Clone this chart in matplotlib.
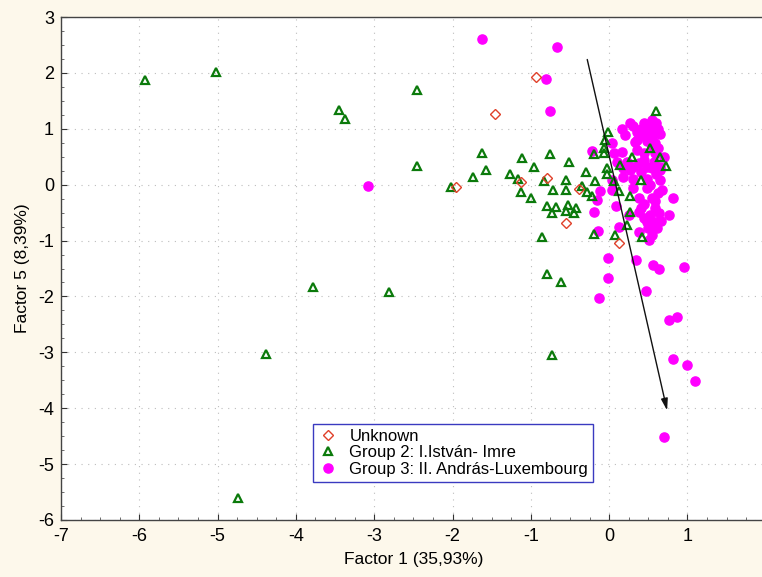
import matplotlib
matplotlib.use("Agg")
import matplotlib.pyplot as plt
from matplotlib.ticker import MultipleLocator
from matplotlib.lines import Line2D

plt.rcParams['font.family'] = ['Liberation Sans', 'DejaVu Sans']
plt.rcParams['axes.unicode_minus'] = False

# Factor scores (Factor 1, Factor 5) per group
unknown_x = [-1.95, -1.12, -0.79, -0.39, -0.55, 0.12, -0.94, -1.46]
unknown_y = [-0.05, 0.05, 0.12, -0.08, -0.68, -1.05, 1.93, 1.26]

group2_x = [-5.93, -5.02, -3.45, -3.37, -2.46, -2.45, -3.78, -2.81, -4.38, -4.74, -0.73,
            -2.02, -1.63, -1.74, -1.57, -1.27, -1.11, -1.17, -1.12, -1.00, -0.96, -0.75,
            -0.83, -0.51, -0.72, -0.55, -0.55, -0.79, -0.68, -0.73, -0.53, -0.55, -0.45,
            -0.43, -0.86, -0.80, -0.62,
            -0.29, -0.18, -0.03, -0.35, -0.28, -0.22, 0.13, 0.40, 0.26, 0.23, 0.06, 0.27,
            -0.20, 0.07, 0.42, 0.72, 0.60, -0.02, -0.05, -0.06, -0.20, -0.07, 0.52, 0.29,
            0.65, 0.14, -0.03]
group2_y = [1.87, 2.01, 1.33, 1.17, 1.69, 0.33, -1.83, -1.92, -3.03, -5.60, -3.05,
            -0.04, 0.56, 0.13, 0.26, 0.19, 0.47, 0.11, -0.13, -0.23, 0.31, 0.55,
            0.07, 0.40, -0.09, 0.08, -0.10, -0.38, -0.40, -0.51, -0.36, -0.47, -0.51,
            -0.42, -0.94, -1.59, -1.75,
            0.23, 0.07, 0.19, -0.03, -0.13, -0.21, -0.12, 0.08, -0.49, -0.72, 0.07, -0.21,
            -0.89, -0.90, -0.93, 0.33, 1.31, 0.95, 0.80, 0.65, 0.55, 0.56, 0.65, 0.50,
            0.50, 0.35, 0.29]

group3_x = [-1.63, -0.66, -0.81, -0.75, -3.08, -0.13, -0.02, -0.02, 0.34, 0.56, 0.63,
            0.95, 0.47, 0.76, 0.86, 0.82, 0.99, 1.09, 0.70,
            -0.14, 0.13, 0.38, -0.19, 0.09, 0.38, -0.16, 0.03, -0.12, 0.81, 0.77, 0.51,
            -0.22, 0.27, 0.17, 0.20, 0.30, 0.40, 0.45, 0.50, 0.55, 0.60, 0.62, 0.50,
            0.42, 0.55, 0.65, 0.35, 0.48, 0.58,
            0.03, 0.06, 0.16, 0.33, 0.35, 0.44, 0.59, 0.70, 0.57, 0.38, 0.23, 0.10,
            0.18, 0.31, 0.48, 0.65, 0.27, 0.40, 0.55, 0.65, 0.03, 0.18, 0.31, 0.48,
            0.65, 0.31, 0.48, 0.67, 0.38, 0.55, 0.40, 0.59, 0.25, 0.52, 0.63, 0.48,
            0.59, 0.50, 0.61, 0.55,
            0.45, 0.60, 0.52, 0.62, 0.45, 0.58, 0.66, 0.45, 0.55, 0.50, 0.62, 0.35, 0.58]
group3_y = [2.60, 2.46, 1.89, 1.31, -0.02, -2.02, -1.32, -1.67, -1.35, -1.44, -1.51,
            -1.47, -1.91, -2.43, -2.37, -3.12, -3.22, -3.51, -4.51,
            -0.82, -0.76, -0.85, -0.48, -0.39, -0.48, -0.28, -0.09, -0.11, -0.23, -0.55, -0.99,
            0.61, 1.11, 0.99, 0.89, 1.05, 1.00, 1.10, 1.05, 1.15, 1.10, 1.00, 0.95,
            0.88, 0.85, 0.90, 0.80, 0.78, 0.75,
            0.74, 0.56, 0.59, 0.77, 0.62, 0.56, 0.56, 0.50, 0.41, 0.38, 0.41, 0.41,
            0.29, 0.32, 0.32, 0.32, 0.26, 0.23, 0.29, 0.26, 0.08, 0.14, 0.11, 0.11,
            0.08, -0.06, -0.06, -0.09, -0.24, -0.24, -0.42, -0.42, -0.54, -0.54, -0.51, -0.66,
            -0.66, -0.78, -0.78, -0.90,
            0.45, 0.20, 0.00, -0.15, -0.35, -0.30, -0.65, -0.60, 0.70, 0.85, 0.65, 0.95, 0.98]

# Direction arrow (start -> end) in factor space
arrow_start = (-0.28, 2.24)
arrow_end = (0.74, -4.04)

x_ticks = [-7, -6, -5, -4, -3, -2, -1, 0, 1, 2]
y_ticks = [-6, -5, -4, -3, -2, -1, 0, 1, 2, 3]

labels = ['Unknown', 'Group 2: I.István- Imre', 'Group 3: II. András-Luxembourg']

green = '#0B7A0B'
red = '#E0402A'
magenta = '#FF00FF'

fig = plt.figure(figsize=(7.62, 5.77), dpi=100)
fig.patch.set_facecolor('#FDF8EB')
ax = fig.add_axes([0.080, 0.0988, 0.925, 0.8717])
ax.set_facecolor('white')

ax.plot(group3_x, group3_y, 'o', ls='none', color=magenta, ms=6.6, mec=magenta, zorder=3)
ax.plot(group2_x, group2_y, '^', ls='none', mfc='none', mec=green, mew=1.6, ms=6.2, zorder=4)
ax.plot(unknown_x, unknown_y, 'D', ls='none', mfc='none', mec=red, mew=1.0, ms=4.6, zorder=5)

ax.annotate('', xy=arrow_end, xytext=arrow_start,
            arrowprops=dict(arrowstyle='-|>,head_length=0.7,head_width=0.2',
                            color='#111111', lw=1.0, shrinkA=0, shrinkB=0),
            zorder=6)

ax.set_xlim(-7, 2)
ax.set_ylim(-6, 3)
ax.set_xticks(x_ticks)
ax.set_yticks(y_ticks)
ax.xaxis.set_minor_locator(MultipleLocator(0.25))
ax.yaxis.set_minor_locator(MultipleLocator(0.25))
ax.tick_params(which='major', direction='in', length=4, width=0.8, labelsize=13,
               colors='#333333', labelcolor='black', top=False, right=False)
ax.tick_params(which='minor', direction='in', length=2, width=0.6, colors='#555555',
               top=False, right=False)
ax.tick_params(axis='x', pad=6)
ax.tick_params(axis='y', pad=5)

ax.grid(True, which='major', color='#BDBDBD', linestyle=(0, (1, 5)), linewidth=0.8)
ax.set_axisbelow(True)
for s in ax.spines.values():
    s.set_color('#444444')
    s.set_linewidth(1.0)

ax.set_xlabel('Factor 1 (35,93%)', fontsize=12.5, labelpad=5)
ax.set_ylabel('Factor 5 (8,39%)', fontsize=12.5, labelpad=6)

handles = [
    Line2D([], [], marker='D', ls='none', mfc='none', mec=red, mew=1.0, ms=4.6),
    Line2D([], [], marker='^', ls='none', mfc='none', mec=green, mew=1.6, ms=6.2),
    Line2D([], [], marker='o', ls='none', color=magenta, ms=6.6),
]
leg = ax.legend(handles, labels, loc='upper left', bbox_to_anchor=(0.357, 0.191),
                fontsize=12, frameon=True, fancybox=False, framealpha=1,
                borderpad=0.3, labelspacing=0.08, handletextpad=0.7,
                handlelength=1.2, borderaxespad=0)
leg.get_frame().set_edgecolor('#3A3AC0')
leg.get_frame().set_linewidth(1.0)
leg.set_zorder(7)

fig.savefig('out.png', dpi=100, facecolor=fig.get_facecolor())
